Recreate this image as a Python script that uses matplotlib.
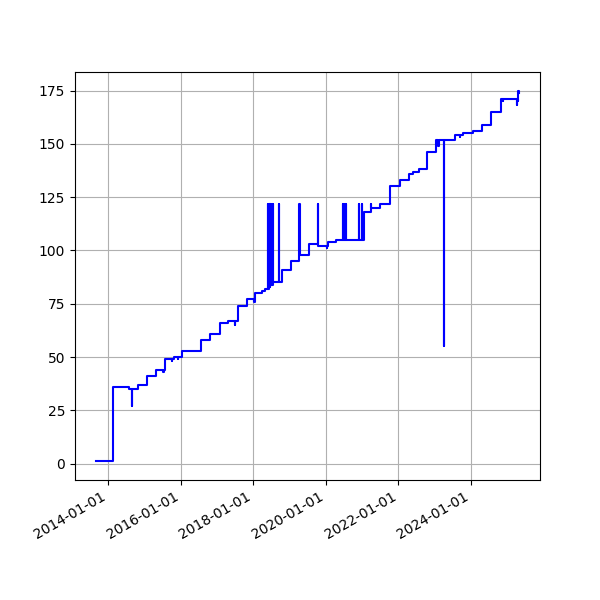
import matplotlib
matplotlib.use("Agg")
import matplotlib.pyplot as plt
import matplotlib.dates as mdates
import pandas as pd

# change points of the series (date, value); short spikes return to the level right after
dates = [
    "2013-09-03", "2014-02-17", "2014-07-28", "2014-08-30", "2014-09-02",
    "2014-10-29", "2015-01-24", "2015-04-28", "2015-07-10", "2015-07-13",
    "2015-07-24", "2015-10-05", "2015-10-08", "2015-10-22", "2015-12-01",
    "2015-12-04", "2016-01-20", "2016-07-21", "2016-10-19", "2017-01-29",
    "2017-04-26", "2017-07-01", "2017-07-04", "2017-07-28", "2017-10-27",
    "2018-01-08", "2018-01-18", "2018-03-26", "2018-04-25",
    "2018-05-28", "2018-05-31", "2018-06-04", "2018-06-08", "2018-06-12",
    "2018-06-16", "2018-06-20", "2018-06-25", "2018-06-29", "2018-07-03",
    "2018-07-08", "2018-07-12", "2018-07-16", "2018-07-19",
    "2018-09-19", "2018-09-22", "2018-10-20", "2019-01-11", "2019-04-08",
    "2019-04-12", "2019-07-21", "2019-10-13", "2019-10-16", "2020-01-13",
    "2020-01-17", "2020-01-20", "2020-04-17",
    "2020-06-23", "2020-06-27", "2020-07-01", "2020-07-05", "2020-07-09",
    "2020-07-13", "2020-07-18", "2020-07-22", "2020-07-26",
    "2020-11-26", "2020-11-29", "2020-12-30", "2021-01-02", "2021-01-23",
    "2021-03-31", "2021-04-03", "2021-04-20", "2021-07-02", "2021-10-10",
    "2022-01-19", "2022-04-19", "2022-05-26", "2022-07-31", "2022-10-20",
    "2023-01-15", "2023-02-07", "2023-02-10", "2023-04-05", "2023-04-08",
    "2023-07-25", "2023-09-13", "2023-09-16", "2023-10-16", "2024-01-24",
    "2024-04-23", "2024-07-17", "2024-10-25", "2024-11-14", "2024-11-17",
    "2025-04-04", "2025-04-08", "2025-04-15", "2025-04-20", "2025-04-27",
]
values = [
    1, 36, 35, 27, 35,
    37, 41, 44, 43, 44,
    49, 48, 49, 50, 49,
    50, 53, 58, 61, 66,
    67, 65, 67, 74, 77,
    76, 80, 81, 82,
    122, 82, 122, 83, 122,
    83, 122, 84, 122, 84,
    122, 84, 122, 85,
    122, 85, 91, 95, 122,
    98, 103, 122, 102, 101,
    102, 104, 105,
    122, 105, 122, 105, 122,
    105, 122, 105, 105,
    122, 105, 122, 105, 118,
    122, 120, 120, 122, 130,
    133, 136, 137, 138, 146,
    152, 149, 152, 55, 152,
    154, 153, 154, 155, 156,
    159, 165, 171, 170, 171,
    168, 171, 170, 175, 174,
]

x = pd.to_datetime(dates)

fig, ax = plt.subplots(figsize=(6, 6), dpi=100)
ax.plot(x, values, color="blue", drawstyle="steps-post", linewidth=1.5)
ax.xaxis.set_major_locator(mdates.YearLocator(base=2, month=1, day=1))
ax.xaxis.set_major_formatter(mdates.DateFormatter("%Y-%m-%d"))
ax.grid(True)
fig.autofmt_xdate()
fig.savefig("out.png")
